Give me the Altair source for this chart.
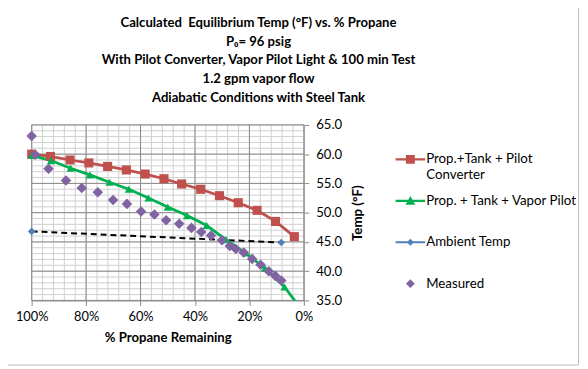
import altair as alt
import pandas as pd

# ---------------- data ----------------
series_names = ["Prop.+Tank + Pilot Converter", "Prop. + Tank + Vapor Pilot", "Ambient Temp", "Measured"]
series_colors = ["#C0504D", "#00B050", "#4F81BD", "#8064A2"]

red_x = [1.00, 0.931, 0.859, 0.790, 0.721, 0.652, 0.583, 0.514, 0.449, 0.379, 0.310, 0.241, 0.172, 0.104, 0.035]
red_t = [60.0, 59.6, 59.0, 58.5, 57.9, 57.3, 56.6, 55.8, 54.9, 54.0, 52.9, 51.7, 50.4, 48.5, 45.9]

green_x = [1.0, 0.929, 0.857, 0.786, 0.714, 0.643, 0.571, 0.500, 0.429, 0.357, 0.286, 0.214, 0.143, 0.071, 0.0]
green_t = [59.8, 58.9, 57.6, 56.45, 55.2, 54.0, 52.5, 50.95, 49.5, 47.8, 45.4, 43.1, 40.5, 37.3, 32.9]

amb_x = [1.0, 0.083]
amb_t = [46.8, 44.9]

meas_x = [1.0, 0.987, 0.938, 0.874, 0.816, 0.757, 0.701, 0.650, 0.598, 0.549, 0.506, 0.458,
          0.413, 0.377, 0.341, 0.301, 0.272, 0.250, 0.221, 0.190, 0.159, 0.129, 0.105, 0.083]
meas_t = [63.1, 59.9, 57.5, 55.5, 54.2, 53.5, 52.15, 51.5, 50.2, 49.7, 48.7, 48.1,
          47.4, 46.7, 46.1, 45.3, 44.3, 43.8, 43.2, 42.1, 41.1, 40.0, 39.2, 38.4]

x_ticks = [1.0, 0.8, 0.6, 0.4, 0.2, 0.0]
x_minor = [1.0, 0.96, 0.92, 0.88, 0.84, 0.8, 0.76, 0.72, 0.68, 0.64, 0.6, 0.56, 0.52, 0.48,
           0.44, 0.4, 0.36, 0.32, 0.28, 0.24, 0.2, 0.16, 0.12, 0.08, 0.04, 0.0]
y_ticks = [35, 40, 45, 50, 55, 60, 65]
y_minor = list(range(35, 66))

title_lines = [
    "Calculated\u00a0 Equilibrium Temp (\u00b0F) vs. % Propane",
    "P\u2080= 96 psig",
    "With Pilot Converter, Vapor Pilot Light & 100 min Test",
    "1.2 gpm vapor flow",
    "Adiabatic Conditions with Steel Tank",
]

# legend symbols (line + marker), unit coordinates
legend_paths = [
    "M-1,-0.08H1V0.08H-1Z M-0.3,-0.3H0.3V0.3H-0.3Z",
    "M-1,-0.08H1V0.08H-1Z M0,-0.33L0.33,0.26H-0.33Z",
    "M-1,-0.06H1V0.06H-1Z M0,-0.24L0.24,0L0,0.24L-0.24,0Z",
    "M0,-0.3L0.3,0L0,0.3L-0.3,0Z",
]

# ---------------- frames ----------------
def frame(xs, ts, name):
    return pd.DataFrame({"pct": xs, "temp": ts, "series": name})

red_df = frame(red_x, red_t, series_names[0])
green_df = frame(green_x, green_t, series_names[1])
amb_df = frame(amb_x, amb_t, series_names[2])
meas_df = frame(meas_x, meas_t, series_names[3])
legend_df = pd.DataFrame({"series": series_names, "pct": [3.0] * 4, "temp": [50.0] * 4})

FONT = "Lato"
MAJOR = "#8a8a8a"
MINOR = "#cfcfcf"
RED, GREEN, BLUE, PURPLE = series_colors

x_scale = alt.Scale(domain=[0, 1], reverse=True, nice=False, zero=False)
y_scale = alt.Scale(domain=[35, 65], nice=False, zero=False)

x_axis = alt.Axis(values=x_ticks, format=".0%", grid=False, tickSize=5, tickColor=MAJOR,
                  domainColor=MAJOR, labelFont=FONT, labelFontSize=13, labelColor="#000000",
                  labelPadding=5, labelFlush=False, title="% Propane Remaining", titleFont=FONT,
                  titleFontSize=13.3, titleFontWeight="bold", titleColor="#000000", titlePadding=8)
y_axis = alt.Axis(orient="right", values=y_ticks, format=".1f", grid=False, tickSize=5,
                  tickColor=MAJOR, domainColor=MAJOR, labelFont=FONT, labelFontSize=13.3,
                  labelColor="#000000", labelPadding=7, labelFlush=False, title="Temp (\u00b0F)",
                  titleFont=FONT, titleAngle=270, titleBaseline="top", titleFontSize=13.5,
                  titleFontWeight="bold", titleColor="#000000", titlePadding=9)

def X(field="pct"):
    return alt.X(f"{field}:Q", scale=x_scale, axis=x_axis)

def Y(field="temp"):
    return alt.Y(f"{field}:Q", scale=y_scale, axis=y_axis)

# grid
gx_minor = alt.Chart(pd.DataFrame({"pct": x_minor})).mark_rule(color=MINOR, strokeWidth=1).encode(x=X())
gy_minor = alt.Chart(pd.DataFrame({"temp": y_minor})).mark_rule(color=MINOR, strokeWidth=1).encode(y=Y())
gx_major = alt.Chart(pd.DataFrame({"pct": x_ticks})).mark_rule(color=MAJOR, strokeWidth=1).encode(x=X())
gy_major = alt.Chart(pd.DataFrame({"temp": y_ticks})).mark_rule(color=MAJOR, strokeWidth=1).encode(y=Y())

red_line = alt.Chart(red_df).mark_line(strokeWidth=2.8, color=RED).encode(x=X(), y=Y())
green_line = alt.Chart(green_df).mark_line(strokeWidth=2.8, color=GREEN, clip=True).encode(x=X(), y=Y())
amb_line = alt.Chart(amb_df).mark_line(strokeWidth=2, color="#000000", strokeDash=[6, 4]).encode(x=X(), y=Y())

red_pts = alt.Chart(red_df).mark_point(shape="square", filled=True, size=85, opacity=1, color=RED).encode(
    x=X(), y=Y())
green_pts = alt.Chart(green_df).transform_filter("datum.temp >= 35").mark_point(
    shape="triangle-up", filled=True, size=70, opacity=1, color=GREEN).encode(x=X(), y=Y())
amb_pts = alt.Chart(amb_df).mark_point(shape="diamond", filled=True, size=60, opacity=1, color=BLUE).encode(
    x=X(), y=Y())
meas_pts = alt.Chart(meas_df).mark_point(shape="diamond", filled=True, size=115, opacity=1, color=PURPLE).encode(
    x=X(), y=Y())

label_expr = ("[datum.label == 'Prop.+Tank + Pilot Converter' ? 'Prop.+Tank + Pilot' : datum.label, "
              "datum.label == 'Prop.+Tank + Pilot Converter' ? 'Converter' : ' ']")

leg = dict(title=None, orient="none", legendX=369, legendY=20,
           labelFont=FONT, labelFontSize=13.5, labelColor="#000000",
           labelLimit=300, labelOffset=1, rowPadding=5, symbolSize=900,
           symbolStrokeWidth=0, symbolOpacity=1, labelExpr=label_expr)

legend_layer = alt.Chart(legend_df).mark_point(filled=True, size=900, opacity=1, clip=True).encode(
    x=X(), y=Y(),
    color=alt.Color("series:N", scale=alt.Scale(domain=series_names, range=series_colors),
                    legend=alt.Legend(**leg)),
    shape=alt.Shape("series:N", scale=alt.Scale(domain=series_names, range=legend_paths),
                    legend=alt.Legend(**leg)),
)

border = alt.Chart(pd.DataFrame({"k": [0]})).mark_rect(
    fill=None, stroke="#bdbdbd", strokeWidth=1, clip=False).encode(
    x=alt.value(-30.5), x2=alt.value(554.5), y=alt.value(-122.5), y2=alt.value(243.5))

chart = alt.layer(
    gx_minor, gy_minor, gx_major, gy_major,
    amb_line, red_line, green_line,
    red_pts, green_pts, amb_pts, meas_pts,
    legend_layer, border,
).properties(
    width=276, height=178,
    title=alt.TitleParams(text=title_lines, anchor="middle", frame="group", dx=92, offset=-102,
                          font=FONT, fontSize=13.3, fontWeight="bold", lineHeight=19, color="#000000"),
    autosize=alt.AutoSizeParams(type="none"),
    padding={"left": 24, "top": 116, "right": 280, "bottom": 67},
).configure_view(stroke=MAJOR).configure(background="white")

chart.save("out.html", embed_options={"renderer": "svg", "actions": False})
